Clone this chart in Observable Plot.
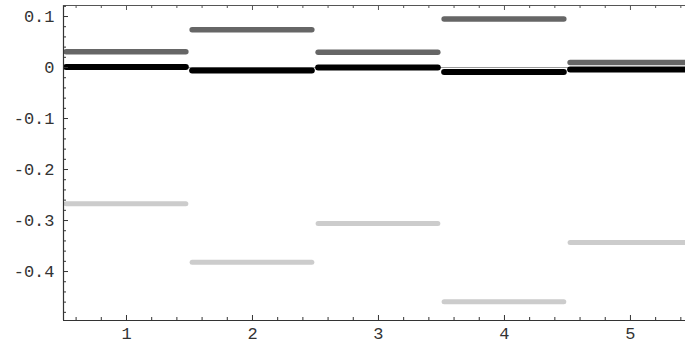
<!DOCTYPE html>
<html>
<head>
<meta charset="utf-8">
<script src="https://cdn.jsdelivr.net/npm/d3@7"></script>
<script src="https://cdn.jsdelivr.net/npm/@observablehq/plot@0.6"></script>
<style>
  html, body { margin: 0; padding: 0; background: #fff; }
  #chart svg { display: block; }
</style>
</head>
<body>
<div id="chart"></div>
<script>
const categories = [1, 2, 3, 4, 5];
const seriesBlack = [0.001, -0.006, 0.000, -0.009, -0.004];
const seriesDark  = [0.031, 0.074, 0.030, 0.095, 0.010];
const seriesLight = [-0.267, -0.382, -0.306, -0.459, -0.343];
const xTickValues = [1, 2, 3, 4, 5];
const yTickValues = [-0.4, -0.3, -0.2, -0.1, 0, 0.1];
const yTickLabels = ["-0.4", "-0.3", "-0.2", "-0.1", "0", "0.1"];

const xDomain = [0.5, 5.437];
const yDomain = [-0.496, 0.1216];
const W = 685, H = 345;
const mL = 63, mR = 0, mT = 5, mB = 25;
const pxPerX = (W - mL - mR) / (xDomain[1] - xDomain[0]);
const pxPerY = (H - mT - mB) / (yDomain[1] - yDomain[0]);

const half = 0.475;
const rows = [];
const series = [
  {name: "light", vals: seriesLight, color: "#cccccc", w: 5},
  {name: "dark", vals: seriesDark, color: "#666666", w: 5.5},
  {name: "black", vals: seriesBlack, color: "#000000", w: 6}
];
series.forEach(s => categories.forEach((c, i) => rows.push({series: s.name, c, y: s.vals[i]})));

const xMinor = d3.range(0.6, 5.45, 0.2).map(v => +v.toFixed(2)).filter(v => !xTickValues.some(t => Math.abs(t - v) < 1e-6));
const yMinor = d3.range(-0.48, 0.121, 0.02).map(v => +v.toFixed(2)).filter(v => !yTickValues.some(t => Math.abs(t - v) < 1e-6));

const majorLen = 5, minorLen = 3;
const axisColor = "#333";

const chart = Plot.plot({
  width: W, height: H,
  marginLeft: mL, marginRight: mR, marginTop: mT, marginBottom: mB,
  style: {fontFamily: "'Liberation Mono', 'DejaVu Sans Mono', monospace", fontSize: "17px", color: "#333", background: "#fff", overflow: "hidden"},
  x: {domain: xDomain, axis: null},
  y: {domain: yDomain, axis: null},
  marks: [
    Plot.ruleY([0], {stroke: "#999", strokeWidth: 1}),
    ...series.map(s => Plot.ruleY(rows.filter(r => r.series === s.name), {
      y: "y", x1: d => d.c - half, x2: d => d.c + half,
      stroke: s.color, strokeWidth: s.w, strokeLinecap: "round", clip: true
    })),
    // frame lines
    Plot.ruleX([xDomain[0]], {stroke: axisColor, strokeWidth: 1.2}),
    Plot.ruleY([yDomain[0]], {stroke: axisColor, strokeWidth: 1.2}),
    Plot.ruleY([yDomain[1]], {stroke: "#555", strokeWidth: 1.2}),
    // bottom ticks
    Plot.ruleX(xTickValues, {x: d => d, y1: yDomain[0], y2: yDomain[0] + majorLen / pxPerY, stroke: axisColor}),
    Plot.ruleX(xMinor, {x: d => d, y1: yDomain[0], y2: yDomain[0] + minorLen / pxPerY, stroke: axisColor}),
    // top ticks
    Plot.ruleX(xTickValues, {x: d => d, y1: yDomain[1], y2: yDomain[1] - majorLen / pxPerY, stroke: "#555"}),
    Plot.ruleX(xMinor, {x: d => d, y1: yDomain[1], y2: yDomain[1] - minorLen / pxPerY, stroke: "#555"}),
    // left ticks
    Plot.ruleY(yTickValues, {y: d => d, x1: xDomain[0], x2: xDomain[0] + majorLen / pxPerX, stroke: axisColor}),
    Plot.ruleY(yMinor, {y: d => d, x1: xDomain[0], x2: xDomain[0] + minorLen / pxPerX, stroke: axisColor}),
    // labels
    Plot.axisX(xTickValues, {tickSize: 0, tickPadding: 6, label: null, tickFormat: d => String(d), fill: "#333"}),
    Plot.axisY(yTickValues, {tickSize: 0, tickPadding: 9, label: null, tickFormat: d => yTickLabels[yTickValues.indexOf(d)], fill: "#333"})
  ]
});
document.getElementById("chart").appendChild(chart);
</script>
</body>
</html>
